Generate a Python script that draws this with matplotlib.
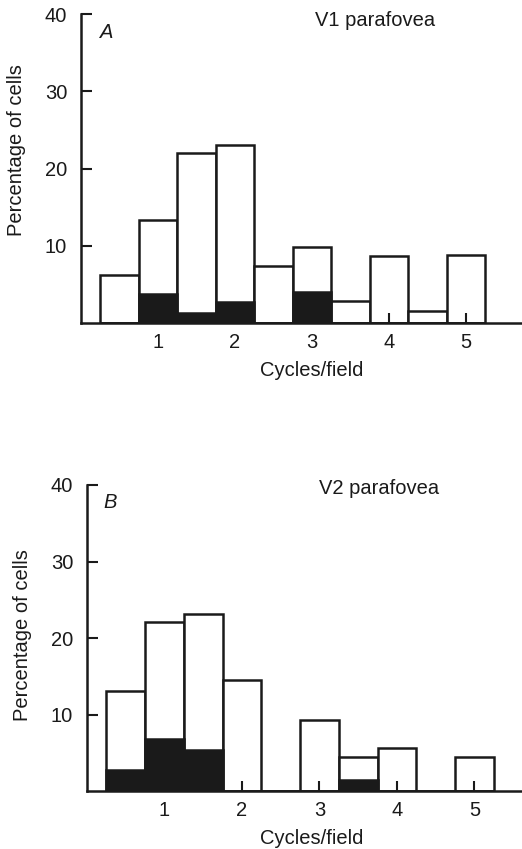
import matplotlib
matplotlib.use("Agg")
import matplotlib.pyplot as plt

plt.rcParams['font.family'] = ['Liberation Sans', 'DejaVu Sans']

centers = [0.5, 1.0, 1.5, 2.0, 2.5, 3.0, 3.5, 4.0, 4.5, 5.0]
v1_total = [6.2, 13.3, 22.0, 23.0, 7.4, 9.9, 2.8, 8.7, 1.6, 8.8]
v1_black = [0.0, 3.7, 1.3, 2.7, 0.0, 4.0, 0.0, 0.0, 0.0, 0.0]
v2_total = [13.1, 22.1, 23.2, 14.5, 0.0, 9.3, 4.4, 5.6, 0.0, 4.5]
v2_black = [2.8, 6.8, 5.4, 0.0, 0.0, 0.0, 1.5, 0.0, 0.0, 0.0]
xticks = [1, 2, 3, 4, 5]
yticks = [10, 20, 30, 40]
titles = ["V1 parafovea", "V2 parafovea"]
letters = ["A", "B"]

W, H = 522, 849
fig = plt.figure(figsize=(W / 100, H / 100), dpi=100)
ink = '#1a1a1a'
lw = 1.8
fs = 14.5

panels = [
    dict(left=81, right=522, bottom=323, top=14, xmax=(522 - 81) / 77.0,
         total=v1_total, black=v1_black, ylab_x=-0.125, ylab_y=0.56,
         title_xy=(375, 20), letter_xy=(107, 33), xlab_y=371),
    dict(left=87, right=522, bottom=791, top=485, xmax=(522 - 87) / 77.5,
         total=v2_total, black=v2_black, ylab_x=-0.127, ylab_y=0.51,
         title_xy=(379, 488), letter_xy=(110, 503), xlab_y=838),
]

for i, p in enumerate(panels):
    ax = fig.add_axes([p['left'] / W, 1 - p['bottom'] / H,
                       (p['right'] - p['left']) / W, (p['bottom'] - p['top']) / H])
    ax.set_xlim(0, p['xmax'])
    ax.set_ylim(0, 40)
    ax.bar(centers, p['total'], width=0.5, color='white', edgecolor=ink, linewidth=lw, zorder=2)
    ax.bar(centers, p['black'], width=0.5, color=ink, edgecolor=ink, linewidth=lw, zorder=3)
    ax.set_axisbelow(False)
    for s in ['top', 'right']:
        ax.spines[s].set_visible(False)
    for s in ['left', 'bottom']:
        ax.spines[s].set_linewidth(lw)
        ax.spines[s].set_color(ink)
        ax.spines[s].set_zorder(4)
    ax.set_xticks(xticks)
    ax.set_yticks(yticks)
    ax.tick_params(axis='both', direction='in', width=1.5, color=ink,
                   labelsize=fs, labelcolor=ink)
    ax.tick_params(axis='x', pad=7, length=7)
    ax.tick_params(axis='y', pad=10, length=8)
    ax.set_ylabel("Percentage of cells", fontsize=fs, color=ink)
    ax.yaxis.set_label_coords(p['ylab_x'], p['ylab_y'])
    ax.patch.set_alpha(0)
    fig.text(312 / W, 1 - p['xlab_y'] / H, "Cycles/field", ha='center', va='center',
             fontsize=fs, color=ink)
    fig.text(p['title_xy'][0] / W, 1 - p['title_xy'][1] / H, titles[i], ha='center', va='center',
             fontsize=fs, color=ink)
    fig.text(p['letter_xy'][0] / W, 1 - p['letter_xy'][1] / H, letters[i], ha='center', va='center',
             fontsize=fs, style='italic', color=ink)

fig.savefig("out.png", dpi=100, facecolor='white')
